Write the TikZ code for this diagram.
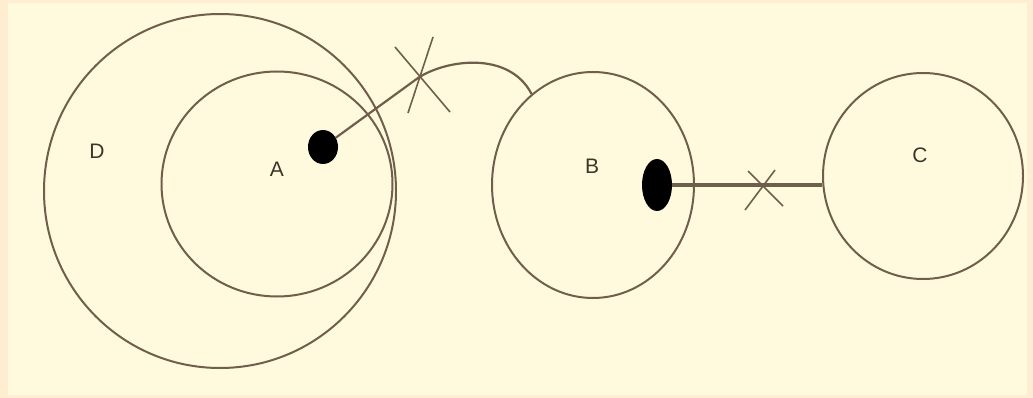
\documentclass[tikz,border=0pt]{standalone}
\usepackage{fontspec}
\setmainfont{Liberation Sans}
\usetikzlibrary{shapes.geometric}
\definecolor{bg}{RGB}{255,250,222}
\definecolor{frame}{RGB}{255,237,210}
\definecolor{ink}{RGB}{112,94,76}
\begin{document}
\begin{tikzpicture}[x=1pt,y=-1pt,
  ring/.style={draw=ink, line width=2pt, ellipse, inner sep=0pt},
  blob/.style={fill=black, ellipse, inner sep=0pt},
  lbl/.style={font=\fontsize{21}{21}\selectfont, text=ink!55!black},
  link/.style={draw=ink, line width=2.2pt},
  tick/.style={draw=ink, line width=1.6pt},
  ]
\fill[frame] (0,0) rectangle (1033,398);
\fill[bg] (8,3) rectangle (1027,395);
\useasboundingbox (0,0) rectangle (1033,398);
% circles
\node[ring, minimum width=352pt, minimum height=354pt] (D) at (220,191) {};
\node[ring, minimum width=231pt, minimum height=225pt] (A) at (277,184) {};
\node[ring, minimum width=202pt, minimum height=226pt] (B) at (593,185) {};
\node[ring, minimum width=200pt, minimum height=206pt] (C) at (923,176) {};
% labels
\node[lbl] (lD) at (97,151) {D};
\node[lbl] (lA) at (277,169) {A};
\node[lbl] (lB) at (592,166) {B};
\node[lbl] (lC) at (920,155) {C};
% blobs
\node[blob, minimum width=30pt, minimum height=34pt] (bA) at (323,147) {};
\node[blob, minimum width=30pt, minimum height=52pt] (bB) at (657,185) {};
% connector A -> B
\coordinate (x1) at (418,78);
\draw[link] (bA) -- (x1) .. controls +(27,-18) and +(-23,-44) .. (B.124);
\draw[tick] ([shift={(-23,-31)}]x1) -- ([shift={(32,34)}]x1);
\draw[tick] ([shift={(15,-41)}]x1) -- ([shift={(-10,35)}]x1);
% connector B -> C
\coordinate (x2) at (763,185);
\draw[link, line width=3.4pt] (bB.east) -- (x2) -- (x2 -| C.west);
\draw[tick] ([shift={(-15,-14)}]x2) -- ([shift={(20,21)}]x2);
\draw[tick] ([shift={(12,-15)}]x2) -- ([shift={(-18,25)}]x2);
\end{tikzpicture}
\end{document}
